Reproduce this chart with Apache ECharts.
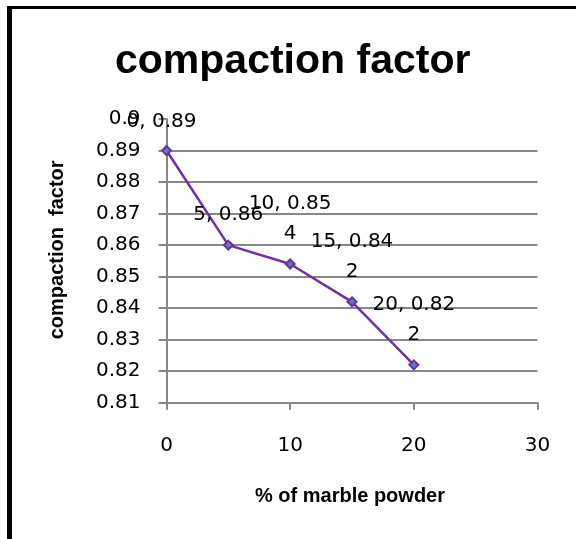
<!DOCTYPE html>
<html>
<head>
<meta charset="utf-8">
<script src="https://cdn.jsdelivr.net/npm/echarts@6/dist/echarts.min.js"></script>
<style>
  html, body { margin: 0; padding: 0; background: #fff; }
  #chart { width: 576px; height: 539px; }
</style>
</head>
<body>
<div id="chart"></div>
<script>
// marble powder % and measured compaction factor
var xValues = [0, 5, 10, 15, 20];
var yValues = [0.89, 0.86, 0.854, 0.842, 0.822];
var xTicks = [0, 10, 20, 30];
var yTicks = [0.81, 0.82, 0.83, 0.84, 0.85, 0.86, 0.87, 0.88, 0.89, 0.9];

var tickFont = "DejaVu Sans";

// excel wraps long labels, mimic that
function pointLabel(x, y) {
  var s = x + ", " + y;
  if (s.length > 8) s = s.slice(0, 8) + "\n" + s.slice(8);
  return s;
}

var seriesData = xValues.map(function (x, i) {
  var item = { value: [x, yValues[i]] };
  if (i === 0) item.label = { offset: [-5, 2] };
  return item;
});

var myChart = echarts.init(document.getElementById("chart"));
var option = {
  animation: false,
  backgroundColor: "#fff",
  title: {
    text: "compaction factor",
    left: 115,
    top: 41,
    padding: 0,
    textStyle: {
      fontFamily: "Liberation Sans",
      fontWeight: "bold",
      fontSize: 41,
      color: "#000",
    },
  },
  grid: {
    left: 166.5,
    right: 38.5,
    top: 119,
    bottom: 136.3,
  },
  xAxis: {
    type: "value",
    min: xTicks[0],
    max: xTicks[xTicks.length - 1],
    interval: xTicks[1] - xTicks[0],
    name: "% of marble powder",
    nameLocation: "middle",
    nameGap: 84,
    nameTextStyle: {
      fontFamily: "Liberation Sans",
      fontWeight: "bold",
      fontSize: 20,
      color: "#000",
      padding: [0, 4, 0, 0],
    },
    axisLine: { lineStyle: { color: "#878787", width: 2 } },
    axisTick: { show: true, length: 7, lineStyle: { color: "#878787", width: 2 } },
    axisLabel: {
      margin: 33,
      fontFamily: tickFont,
      fontSize: 20,
      color: "#000",
    },
    splitLine: { show: false },
  },
  yAxis: {
    type: "value",
    min: yTicks[0],
    max: yTicks[yTicks.length - 1],
    interval: 0.01,
    name: "compaction  factor",
    nameLocation: "middle",
    nameGap: 99,
    nameTextStyle: {
      fontFamily: "Liberation Sans",
      fontWeight: "bold",
      fontSize: 20,
      color: "#000",
      padding: [0, 0, 0, 22],
    },
    axisLine: { show: true, lineStyle: { color: "#878787", width: 2 } },
    axisTick: { show: true, length: 8, lineStyle: { color: "#878787", width: 2 } },
    axisLabel: {
      margin: 26,
      fontFamily: tickFont,
      fontSize: 20,
      color: "#000",
      formatter: function (v) {
        return String(+v.toFixed(2));
      },
    },
    splitLine: {
      show: true,
      showMinLine: false,
      showMaxLine: false,
      lineStyle: { color: "#878787", width: 2 },
    },
  },
  series: [
    {
      type: "line",
      data: seriesData,
      symbol: "diamond",
      symbolSize: 9,
      lineStyle: { color: "#7030A0", width: 2.5 },
      itemStyle: { color: "#4F81BD", borderColor: "#7030A0", borderWidth: 2 },
      label: {
        show: true,
        position: "top",
        distance: 10,
        fontFamily: tickFont,
        fontSize: 20,
        lineHeight: 30,
        color: "#000",
        formatter: function (p) {
          return pointLabel(p.value[0], p.value[1]);
        },
      },
    },
  ],
  graphic: [
    { type: "rect", shape: { x: 7, y: 6, width: 5, height: 533 }, style: { fill: "#000" } },
    { type: "rect", shape: { x: 7, y: 6, width: 569, height: 3 }, style: { fill: "#000" } },
  ],
};

myChart.setOption(option);
window.addEventListener("resize", function () {
  myChart.resize();
});
</script>
</body>
</html>
